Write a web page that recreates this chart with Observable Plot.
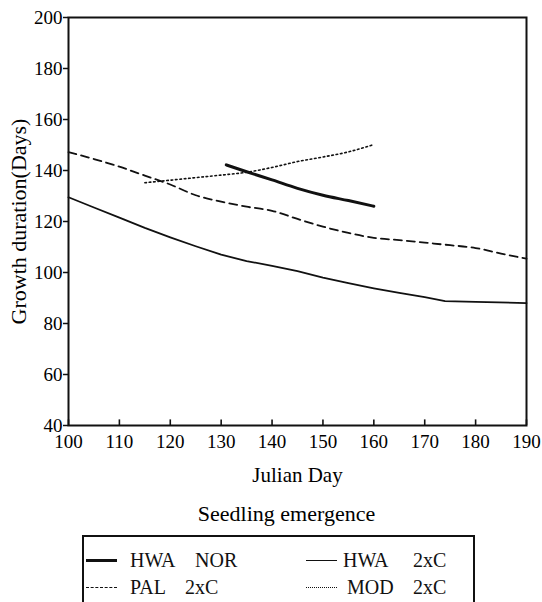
<!DOCTYPE html>
<html>
<head>
<meta charset="utf-8">
<script src="https://cdn.jsdelivr.net/npm/d3@7"></script>
<script src="https://cdn.jsdelivr.net/npm/@observablehq/plot@0.6"></script>
<style>
  body { margin: 0; background: #fff; }
  .ls { font-family: "Liberation Serif"; }
  #wrap { position: relative; width: 542px; height: 602px; }
  #box { position: absolute; left: 82px; top: 535px; width: 389px; height: 80px; border: 2px solid #111; border-bottom: none; }
  .w { position: absolute; font-size: 20px; line-height: 20px; color: #111; }
  .sw { position: absolute; width: 31px; height: 0; }
</style>
</head>
<body>
<div id="wrap" class="ls">
  <div id="chart"></div>
  <div id="box"></div>
  <div class="sw" style="left:86px;top:559px;border-top:3px solid #111"></div>
  <div class="w ls" style="left:130px;top:550px">HWA</div>
  <div class="w ls" style="left:195px;top:550px">NOR</div>
  <div class="sw" style="left:306px;top:560px;border-top:1.8px solid #111"></div>
  <div class="w ls" style="left:343px;top:550px">HWA</div>
  <div class="w ls" style="left:413px;top:550px">2xC</div>
  <div class="sw" style="left:86px;top:587px;border-top:1.5px dashed #111"></div>
  <div class="w ls" style="left:130px;top:577px">PAL</div>
  <div class="w ls" style="left:185px;top:577px">2xC</div>
  <div class="sw" style="left:306px;top:587px;border-top:1.5px dotted #111"></div>
  <div class="w ls" style="left:347px;top:577px">MOD</div>
  <div class="w ls" style="left:413px;top:577px">2xC</div>
</div>
<script>
// ---- data ----
const xTicks = [100, 110, 120, 130, 140, 150, 160, 170, 180, 190];
const yTicks = [40, 60, 80, 100, 120, 140, 160, 180, 200];

const hwaNorDays   = [131, 135, 140, 145, 150, 155, 160];
const hwaNorValues = [142.2, 139.5, 136.3, 133, 130.3, 128.2, 126];

const hwa2xcDays   = [100, 105, 110, 115, 120, 125, 130, 135, 140, 145, 150, 155, 160, 165, 170, 174, 180, 190];
const hwa2xcValues = [129.5, 125.5, 121.5, 117.5, 113.8, 110.3, 107, 104.5, 102.6, 100.5, 98, 95.8, 93.8, 92, 90.3, 88.8, 88.5, 88];

const pal2xcDays   = [100, 105, 110, 115, 120, 125, 130, 135, 140, 145, 150, 155, 160, 165, 170, 175, 180, 185, 190];
const pal2xcValues = [147.2, 144.5, 141.5, 138, 134.5, 130.3, 127.8, 125.8, 124.2, 121, 118, 115.5, 113.6, 112.7, 111.7, 110.7, 109.6, 107.4, 105.4];

const mod2xcDays   = [115, 120, 125, 130, 135, 140, 145, 150, 155, 160];
const mod2xcValues = [135.2, 136.2, 137.2, 138.2, 139.3, 141.2, 143.5, 145.3, 147.3, 150.2];

const toRows = (days, vals) => days.map((d, i) => ({day: d, value: vals[i]}));
const hwaNor = toRows(hwaNorDays, hwaNorValues);
const hwa2xc = toRows(hwa2xcDays, hwa2xcValues);
const pal2xc = toRows(pal2xcDays, pal2xcValues);
const mod2xc = toRows(mod2xcDays, mod2xcValues);

const ink = "#111";
const serif = "Liberation Serif";

const chart = Plot.plot({
  width: 542,
  height: 602,
  marginLeft: 68,
  marginRight: 16,
  marginTop: 17,
  marginBottom: 177,
  x: {domain: [100, 190]},
  y: {domain: [40, 200]},
  marks: [
    Plot.axisY({ticks: yTicks, tickSize: 5, tickPadding: 1, label: null, fontSize: 19, fontFamily: serif, stroke: ink, strokeWidth: 1.5, tickFormat: d => d}),
    Plot.axisX({ticks: xTicks, tickSize: 0, tickPadding: 9, label: null, fontSize: 19, fontFamily: serif, tickFormat: d => d}),
    Plot.ruleX(xTicks, {x: d => d, y1: 40, y2: 42.2, stroke: ink, strokeWidth: 1.6}),
    Plot.line(hwa2xc, {x: "day", y: "value", stroke: ink, strokeWidth: 1.8}),
    Plot.line(pal2xc, {x: "day", y: "value", stroke: ink, strokeWidth: 1.8, strokeDasharray: "8,5", curve: "monotone-x"}),
    Plot.line(mod2xc, {x: "day", y: "value", stroke: ink, strokeWidth: 1.6, strokeDasharray: "1.6,2.8", curve: "monotone-x"}),
    Plot.line(hwaNor, {x: "day", y: "value", stroke: ink, strokeWidth: 3, curve: "monotone-x"}),
    Plot.frame({stroke: ink, strokeWidth: 2}),
    Plot.text(["Growth duration(Days)"], {text: d => d, frameAnchor: "left", textAnchor: "middle", lineAnchor: "middle", dx: -50, rotate: -90, fontSize: 22, fontFamily: serif}),
    Plot.text(["Julian Day"], {text: d => d, frameAnchor: "bottom", lineAnchor: "middle", dy: 50, fontSize: 21, fontFamily: serif}),
    Plot.text(["Seedling emergence"], {text: d => d, frameAnchor: "bottom", lineAnchor: "middle", dy: 88, dx: -11, fontSize: 22, fontFamily: serif})
  ]
});
document.getElementById("chart").appendChild(chart);
</script>
</body>
</html>
